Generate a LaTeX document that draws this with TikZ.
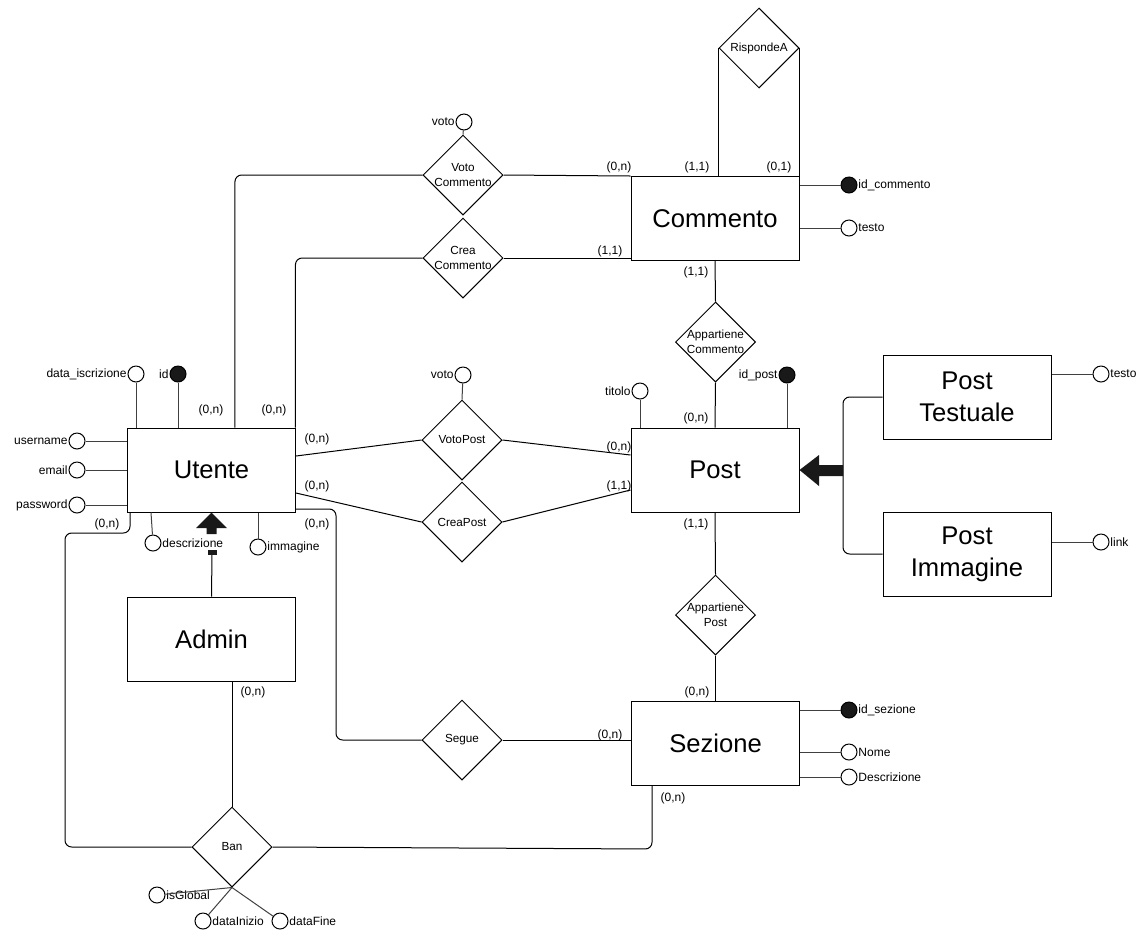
\documentclass[tikz,border=0pt]{standalone}
\usepackage{fontspec}
\setmainfont{Liberation Sans}
\usetikzlibrary{shapes.geometric}
\begin{document}
\begin{tikzpicture}[x=0.75pt,y=-0.75pt,
  ent/.style={draw,line width=0.75pt,minimum width=126pt,minimum height=63pt,inner sep=0pt,font=\fontsize{19.2pt}{24pt}\selectfont,align=center},
  rel/.style={draw,diamond,aspect=1,minimum width=60pt,minimum height=60pt,inner sep=0pt,line width=0.75pt},
  rtext/.style={font=\fontsize{8.8pt}{11pt}\selectfont,align=center,inner sep=0pt},
  att/.style={circle,draw,minimum size=12pt,inner sep=0pt,line width=0.75pt,fill=white},
  key/.style={att,fill=black!90},
  lab/.style={font=\fontsize{9pt}{10pt}\selectfont,inner sep=0.5pt},
  card/.style={font=\fontsize{9pt}{10pt}\selectfont,inner sep=0pt},
  conn/.style={line width=0.75pt},
  aconn/.style={line width=0.75pt,draw=black!75},
  label distance=0pt
]
\useasboundingbox (0,0) rectangle (1145,940);

% ---------- entities ----------
\node[ent] (co) at (715,218.5) {Commento};
\node[ent] (ut) at (211.5,470) {Utente};
\node[ent] (ad) at (211.5,639) {Admin};
\node[ent] (po) at (715,470) {Post};
\node[ent] (se) at (715.5,743) {Sezione};
\node[ent] (pt) at (967,397) {Post\\Testuale};
\node[ent] (pi) at (967,554) {Post\\Immagine};

% ---------- relationships ----------
\node[rel] (ra) at (759,48) {};
\node[rtext] (rat) at (ra) {RispondeA};
\node[rel] (vc) at (463,175) {};
\node[rtext] (vct) at (vc) {Voto\\Commento};
\node[rel] (cc) at (463,258) {};
\node[rtext] (cct) at (cc) {Crea\\Commento};
\node[rel] (vp) at (462,440) {};
\node[rtext] (vpt) at (vp) {VotoPost};
\node[rel] (cp) at (462,522) {};
\node[rtext] (cpt) at (cp) {CreaPost};
\node[rel] (ac) at (715.5,342) {};
\node[rtext] (act) at (ac) {Appartiene\\Commento};
\node[rel] (ap) at (715.5,615) {};
\node[rtext] (apt) at (ap) {Appartiene\\Post};
\node[rel] (sg) at (462,740) {};
\node[rtext] (sgt) at (sg) {Segue};
\node[rel] (ban) at (232,847) {};
\node[rtext] (bant) at (ban) {Ban};

% ---------- attributes ----------
% Commento
\node[key,label={[lab]right:id\_commento}] (aic) at (849,185) {};
\node[att,label={[lab]right:testo}] (atc) at (849,228) {};
% VotoCommento
\node[att,label={[lab]left:voto}] (avc) at (464,122) {};
% VotoPost
\node[att,label={[lab]left:voto}] (avp) at (463,375) {};
% Utente
\node[att,label={[lab]left:data\_iscrizione}] (adi) at (136,374) {};
\node[key,label={[lab]left:id}] (aid) at (178,374) {};
\node[att,label={[lab]left:username}] (aun) at (77,441) {};
\node[att,label={[lab]left:email}] (aem) at (77,470) {};
\node[att,label={[lab]left:password}] (apw) at (77,505) {};
\node[att,label={[lab]right:descrizione}] (ade) at (153,543) {};
\node[att,label={[lab]right:immagine}] (aim) at (258,547) {};
% Post
\node[att,label={[lab]left:titolo}] (ati) at (640,391) {};
\node[key,label={[lab]left:id\_post}] (aip) at (787,375) {};
\node[att,label={[lab]right:testo}] (att) at (1101,374) {};
\node[att,label={[lab]right:link}] (ali) at (1101,542) {};
% Sezione
\node[key,label={[lab]right:id\_sezione}] (ais) at (849,710) {};
\node[att,label={[lab]right:Nome}] (ano) at (849,752) {};
\node[att,label={[lab]right:Descrizione}] (ads) at (849,777) {};
% Ban
\node[att,label={[lab]right:isGlobal}] (aig) at (157,895) {};
\node[att,label={[lab]right:dataInizio}] (adin) at (203,921) {};
\node[att,label={[lab]right:dataFine}] (adf) at (280,921) {};

% ---------- attribute connectors ----------
\draw[aconn] (aic) -- (aic -| co.east);
\draw[aconn] (atc) -- (atc -| co.east);
\draw[aconn] (avc) -- (vc.north);
\draw[aconn] (avp) -- (vp.north);
\draw[aconn] (adi) -- (adi |- ut.north);
\draw[aconn] (aid) -- (aid |- ut.north);
\draw[aconn] (aun) -- (aun -| ut.west);
\draw[aconn] (aem) -- (aem -| ut.west);
\draw[aconn] (apw) -- (apw -| ut.west);
\draw[aconn] (ade) -- ([xshift=-1.5pt]ade |- ut.south);
\draw[aconn] (aim) -- (aim |- ut.south);
\draw[aconn] (ati) -- (ati |- po.north);
\draw[aconn] (aip) -- (aip |- po.north);
\draw[aconn] (att) -- (att -| pt.east);
\draw[aconn] (ali) -- (ali -| pi.east);
\draw[aconn] (ais) -- (ais -| se.east);
\draw[aconn] (ano) -- (ano -| se.east);
\draw[aconn] (ads) -- (ads -| se.east);
\draw[aconn] (aig) -- (ban.south);
\draw[aconn] (adin) -- (ban.south);
\draw[aconn] (adf) -- (ban.south);

% ---------- relationship connectors ----------
\draw[conn] (ra.west) -- (ra.west |- co.north);
\draw[conn] (ra.east) -- (ra.east |- co.north);
\draw[conn] (vc.east) -- (co.north west);
\draw[conn,rounded corners=5pt] (vc.west) -| ([xshift=17.6pt]ut.north);
\draw[conn] (cc.east) -- (cc.east -| co.west);
\draw[conn,rounded corners=5pt] (cc.west) -| ([xshift=-0.4pt]ut.north east);
\draw[conn] (co.south) -- (ac.north);
\draw[conn] (ac.south) -- (po.north);
\draw[conn] ([yshift=10.5pt]ut.east) -- (vp.west);
\draw[conn] (vp.east) -- ([yshift=11.25pt]po.west);
\draw[conn] ([yshift=-17.25pt]ut.east) -- (cp.west);
\draw[conn] (cp.east) -- ([yshift=-15pt]po.west);
\draw[conn] (po.south) -- (ap.north);
\draw[conn] (ap.south) -- (se.north);
\coordinate (s1) at (336,509);
\coordinate (s2) at (336,740);
\draw[conn,rounded corners=5pt] ([yshift=-29.25pt]ut.east) -- (s1) -- (s2) -- (sg.west);
\draw[conn] (sg.east) -- (sg.east -| se.west);
\draw[conn] (ban.north |- ad.south) -- (ban.north);
\coordinate (b1) at (130,533);
\coordinate (b2) at (65,533);
\coordinate (b3) at (65,847);
\draw[conn,rounded corners=5pt] ([xshift=2.25pt]ut.south west) -- (b1) -- (b2) -- (b3) -- (ban.west);
\coordinate (b4) at (652,849);
\draw[conn,rounded corners=5pt] (ban.east) -- (b4) -- (b4 |- se.south);

% ---------- generalisations ----------
\coordinate (p1) at (843,470);
\draw[conn,rounded corners=5pt] (pt.west) -| (p1) |- (pi.west);
\fill[black!90] (843,465) -- (819,465) -- (819,455) -- (po.east) -- (819,486) -- (819,476) -- (843,476) -- cycle;
\coordinate (isa) at (212,554);
\draw[conn] (ad.north) -- (isa);
\fill[black!90] (207.5,550) rectangle (216.5,554.5);
\fill[black!90] (206.5,534) -- (206.5,528) -- (196,528) -- (ut.south) -- (227,528) -- (216.5,528) -- (216.5,534) -- cycle;

% ---------- cardinalities ----------
\node[card] (k1) at (697,167) {(1,1)};
\node[card] (k2) at (779,167) {(0,1)};
\node[card] (k3) at (619,167) {(0,n)};
\node[card] (k4) at (610,251) {(1,1)};
\node[card] (k5) at (696,272) {(1,1)};
\node[card] (k6) at (696,418) {(0,n)};
\node[card] (k7) at (696,524) {(1,1)};
\node[card] (k8) at (697,692) {(0,n)};
\node[card] (k9) at (610,735) {(0,n)};
\node[card] (k10) at (673,798) {(0,n)};
\node[card] (k11) at (211,410) {(0,n)};
\node[card] (k12) at (274,410) {(0,n)};
\node[card] (k13) at (317,439) {(0,n)};
\node[card] (k14) at (317,486) {(0,n)};
\node[card] (k15) at (317,524) {(0,n)};
\node[card] (k16) at (107,524) {(0,n)};
\node[card] (k17) at (253,692) {(0,n)};
\node[card] (k18) at (619,447) {(0,n)};
\node[card] (k19) at (619,486) {(1,1)};
\end{tikzpicture}
\end{document}
